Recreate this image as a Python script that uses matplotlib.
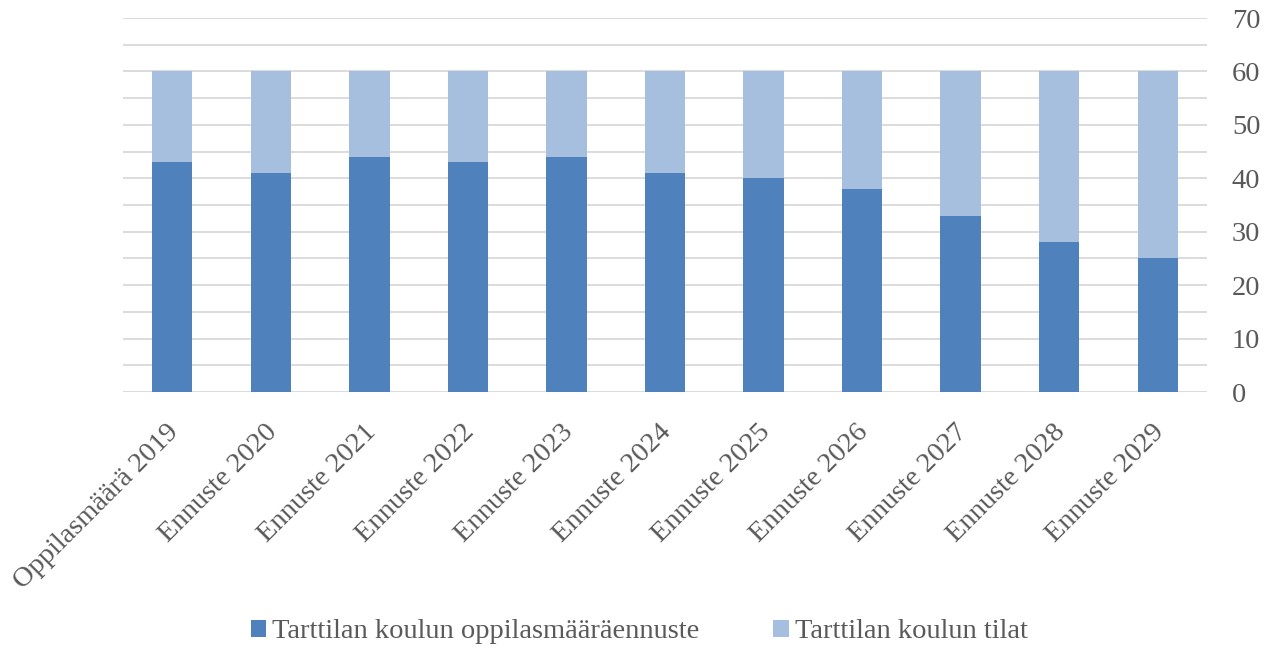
import matplotlib
matplotlib.use("Agg")
import matplotlib.pyplot as plt
from matplotlib.patches import Patch
from matplotlib.transforms import ScaledTranslation

categories = ["Oppilasmäärä 2019", "Ennuste 2020", "Ennuste 2021", "Ennuste 2022",
              "Ennuste 2023", "Ennuste 2024", "Ennuste 2025", "Ennuste 2026",
              "Ennuste 2027", "Ennuste 2028", "Ennuste 2029"]
forecast = [43, 41, 44, 43, 44, 41, 40, 38, 33, 28, 25]
capacity_left = [17, 19, 16, 17, 16, 19, 20, 22, 27, 32, 35]
series_names = ["Tarttilan koulun oppilasmääräennuste", "Tarttilan koulun tilat"]
y_ticks = [0, 10, 20, 30, 40, 50, 60, 70]

dark = "#4f81bd"
light = "#a7bfde"
text_col = "#595959"
grid_col = "#d9d9d9"
fs = 20.5

plt.rcParams["font.family"] = ["Liberation Serif", "DejaVu Serif"]

fig = plt.figure(figsize=(12.78, 6.49), dpi=100)
ax = fig.add_axes([123 / 1278, 1 - 392 / 649, 1084 / 1278, 374 / 649])

x = list(range(len(categories)))
ax.bar(x, forecast, width=0.41, color=dark, zorder=3)
ax.bar(x, capacity_left, bottom=forecast, width=0.41, color=light, zorder=3)

ax.set_xlim(-0.5, len(categories) - 0.5)
ax.set_ylim(0, 70)
for v in range(0, 71, 5):
    ax.axhline(v, color=grid_col, lw=1.3, zorder=1)

for s in ax.spines.values():
    s.set_visible(False)

ax.yaxis.tick_right()
ax.set_yticks(y_ticks)
ax.set_yticklabels([str(t) for t in y_ticks])
ax.tick_params(axis="y", length=0, pad=18, labelsize=fs, labelcolor=text_col)

ax.set_xticks(x)
ax.set_xticklabels(categories, rotation=45, ha="right", va="top",
                   rotation_mode="anchor")
ax.tick_params(axis="x", length=0, pad=20, labelsize=fs, labelcolor=text_col)
shift = ScaledTranslation(-6 / 100, 0, fig.dpi_scale_trans)
for lbl in ax.get_xticklabels():
    lbl.set_transform(lbl.get_transform() + shift)

handles = [Patch(facecolor=dark), Patch(facecolor=light)]
fig.legend(handles, series_names, loc="center", bbox_to_anchor=(0.5, 1 - 632 / 649),
           ncol=2, frameon=False, fontsize=fs, labelcolor=text_col,
           handlelength=0.55, handleheight=0.55, handletextpad=0.2, columnspacing=2.6)

fig.savefig("out.png", dpi=100)
